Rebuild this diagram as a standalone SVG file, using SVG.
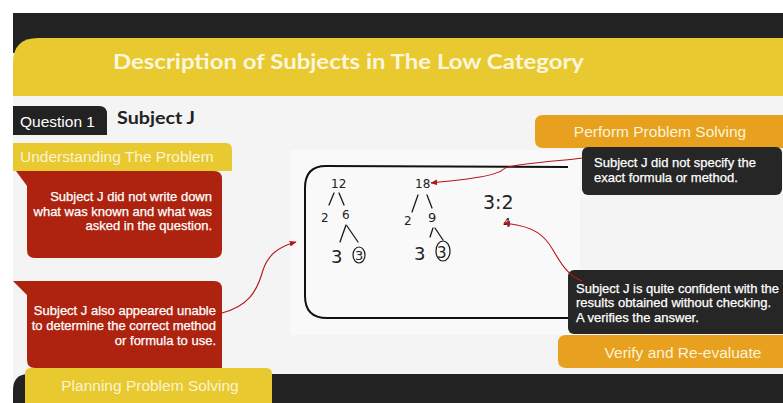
<svg xmlns="http://www.w3.org/2000/svg" width="783" height="403" viewBox="0 0 783 403">
<style>
.tab{font-family:"Liberation Sans",Arial,sans-serif;font-size:15.5px;fill:#fbf3d6}
.body{font-family:"Liberation Sans",Arial,sans-serif;font-size:13px;fill:#ffffff;stroke:#ffffff;stroke-width:0.25}
.hw{font-family:"DejaVu Sans",sans-serif;font-weight:normal;fill:#222222}
.br{stroke:#1a1a1a;stroke-width:1.3;fill:none;stroke-linecap:round}
.conn{fill:none;stroke:#b3161a;stroke-width:1.1}
</style>
<defs>
<marker id="ah" viewBox="0 0 10 10" refX="9" refY="5" markerWidth="7" markerHeight="7" orient="auto" markerUnits="userSpaceOnUse">
<path d="M0,1 L10,5 L0,9 Z" fill="#b3161a"/>
</marker>
</defs>
<rect x="0" y="0" width="783" height="403" fill="#ffffff"/>
<rect x="13" y="13" width="770" height="390" fill="#f4f4f4"/>
<rect x="290" y="150" width="290" height="185" fill="#f9f9f9"/>
<g id="header">
<rect x="13" y="13" width="770" height="40" fill="#222222"/>
<path d="M13,96 V63 Q13,38 38,38 H783 V96 Z" fill="#e8c92f"/>
<text x="113" y="69" font-family="Lato,'Open Sans',sans-serif" font-weight="bold" font-size="20" fill="#fcf6de" textLength="471" lengthAdjust="spacingAndGlyphs">Description of Subjects in The Low Category</text>
</g>
<g id="footer">
<path d="M13,403 V390 Q13,374 29,374 H783 V403 Z" fill="#222222"/>
</g>
<g id="question-tab">
<path d="M13,106 H99 Q107,106 107,114 V135 H13 Z" fill="#222222"/>
<text x="20" y="127" font-family="'Liberation Sans',Arial,sans-serif" font-size="15.5" fill="#ffffff" textLength="75" lengthAdjust="spacingAndGlyphs">Question 1</text>
<text x="117" y="124" font-family="Lato,'Open Sans',sans-serif" font-weight="bold" font-size="16.5" fill="#222222" textLength="78" lengthAdjust="spacingAndGlyphs">Subject J</text>
</g>
<g id="work">
<path d="M568,167 L326,166 Q305,166 305,188 V296 Q305,318 327,318 H572" fill="none" stroke="#111111" stroke-width="2"/>
<text class="hw" x="331" y="188" font-size="12">12</text>
<path class="br" d="M334,193 L329,205 M339,193 L344,205"/>
<text class="hw" x="321" y="222" font-size="12">2</text>
<text class="hw" x="342" y="219" font-size="12">6</text>
<path class="br" d="M346,225 L340,242 M347,226 L358,242"/>
<text class="hw" x="331" y="263" font-size="18">3</text>
<text class="hw" x="355" y="260" font-size="13">3</text>
<ellipse cx="359" cy="255" rx="6" ry="8" fill="none" stroke="#1a1a1a" stroke-width="1.2"/>
<text class="hw" x="415" y="188" font-size="12">18</text>
<path class="br" d="M418,195 L412,212 M427,195 L432,208"/>
<text class="hw" x="404" y="225" font-size="12">2</text>
<text class="hw" x="428" y="222" font-size="13">9</text>
<path class="br" d="M433,228 L430,237 M435,228 L443,240"/>
<text class="hw" x="414" y="260" font-size="18">3</text>
<text class="hw" x="437" y="258" font-size="15">3</text>
<ellipse cx="443" cy="251" rx="7" ry="10" fill="none" stroke="#1a1a1a" stroke-width="1.2"/>
<text class="hw" x="483" y="209" font-size="19">3:2</text>
<text class="hw" x="503" y="227" font-size="12">4</text>
</g>
<g id="understanding">
<path d="M13,143 H226 Q232,143 232,150 V171 H13 Z" fill="#e8c92f"/>
<text class="tab" x="20" y="162">Understanding The Problem</text>
</g>
<g id="note-known">
<path d="M16,171 H214 Q222,171 222,179 V250 Q222,258 214,258 H35 Q27,258 27,250 V186 Z" fill="#ad230f"/>
<text class="body" text-anchor="end" x="212" y="201">Subject J did not write down</text>
<text class="body" text-anchor="end" x="212" y="215.5">what was known and what was</text>
<text class="body" text-anchor="end" x="212" y="230">asked in the question.</text>
</g>
<g id="note-method">
<path d="M13,281 H214 Q222,281 222,289 V368 H35 Q27,368 27,360 V295 Z" fill="#ad230f"/>
<text class="body" text-anchor="end" x="216" y="314.5">Subject J also appeared unable</text>
<text class="body" text-anchor="end" x="216" y="329.5">to determine the correct method</text>
<text class="body" text-anchor="end" x="216" y="344.5">or formula to use.</text>
</g>
<g id="planning">
<path d="M25,403 V374 Q25,368 31,368 H266 Q272,368 272,374 V403 Z" fill="#e8c92f"/>
<text class="tab" x="150" y="391" text-anchor="middle">Planning Problem Solving</text>
</g>
<g id="perform">
<path d="M543,115 H783 V148 H543 Q535,148 535,140 V123 Q535,115 543,115 Z" fill="#e8a11f"/>
<text class="tab" x="660" y="137" text-anchor="middle">Perform Problem Solving</text>
</g>
<g id="note-formula">
<rect x="582" y="147" width="200" height="48" rx="6" fill="#262626"/>
<text class="body" x="594" y="166.5">Subject J did not specify the</text>
<text class="body" x="594" y="181.5">exact formula or method.</text>
</g>
<g id="note-confident">
<rect x="568" y="270" width="220" height="64" rx="6" fill="#262626"/>
<text class="body" x="576" y="292.5">Subject J is quite confident with the</text>
<text class="body" x="576" y="307">results obtained without checking.</text>
<text class="body" x="576" y="321.5">A verifies the answer.</text>
</g>
<g id="verify">
<path d="M566,335 H783 V368 H566 Q558,368 558,360 V343 Q558,335 566,335 Z" fill="#e8a11f"/>
<text class="tab" x="683" y="358" text-anchor="middle">Verify and Re-evaluate</text>
</g>
<g id="connectors">
<path class="conn" d="M583,158 C560,161 520,163 505,168 C498,176 470,179 431,183" marker-end="url(#ah)"/>
<path class="conn" d="M582,281 C568,276 560,262 553,250 C545,236 535,226 504,223" marker-end="url(#ah)"/>
<path class="conn" d="M222,313 C248,306 257,292 263,270 C268,255 278,247 296,242" marker-end="url(#ah)"/>
</g>
</svg>
